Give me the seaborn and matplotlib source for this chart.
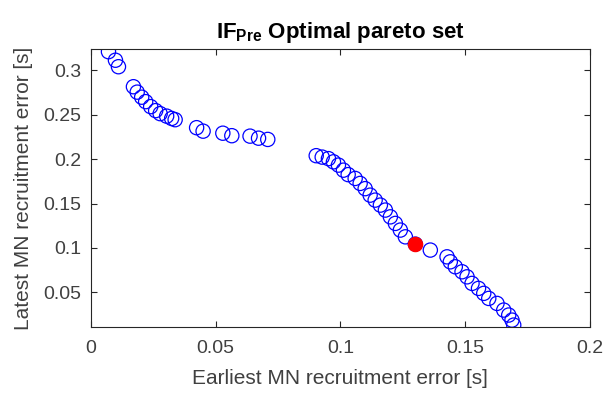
import matplotlib
matplotlib.use("Agg")
import matplotlib.pyplot as plt
import seaborn as sns
import pandas as pd

earliest_err = [0.0071, 0.0099, 0.0111, 0.0171, 0.0186, 0.0204, 0.0220, 0.0240, 0.0260, 0.0278,
                0.0304, 0.0324, 0.0338, 0.0424, 0.0450, 0.0529, 0.0565, 0.0638, 0.0672, 0.0709,
                0.0903, 0.0927, 0.0952, 0.0972, 0.0992, 0.1012, 0.1031, 0.1059, 0.1079, 0.1099,
                0.1119, 0.1139, 0.1160, 0.1180, 0.1200, 0.1220, 0.1240, 0.1260, 0.1300, 0.1360,
                0.1427, 0.1440, 0.1460, 0.1487, 0.1507, 0.1527, 0.1553, 0.1574, 0.1594, 0.1627,
                0.1654, 0.1674, 0.1687, 0.1694]
latest_err = [0.3208, 0.3112, 0.3039, 0.2814, 0.2753, 0.2696, 0.2646, 0.2590, 0.2545, 0.2511,
              0.2483, 0.2457, 0.2443, 0.2353, 0.2314, 0.2291, 0.2263, 0.2258, 0.2235, 0.2221,
              0.2038, 0.2022, 0.2005, 0.1969, 0.1932, 0.1875, 0.1825, 0.1782, 0.1726, 0.1667,
              0.1594, 0.1538, 0.1482, 0.1426, 0.1350, 0.1276, 0.1201, 0.1125, 0.1043, 0.0976,
              0.0900, 0.0844, 0.0788, 0.0732, 0.0675, 0.0601, 0.0545, 0.0489, 0.0432, 0.0376,
              0.0301, 0.0245, 0.0188, 0.0132]
selected_x = [0.1300]
selected_y = [0.1043]

x_ticks = [0, 0.05, 0.1, 0.15, 0.2]
x_ticklabels = ["0", "0.05", "0.1", "0.15", "0.2"]
y_ticks = [0.05, 0.1, 0.15, 0.2, 0.25, 0.3]
y_ticklabels = ["0.05", "0.1", "0.15", "0.2", "0.25", "0.3"]

df = pd.DataFrame({"earliest": earliest_err, "latest": latest_err})
sel = pd.DataFrame({"earliest": selected_x, "latest": selected_y})

sns.set_style("white")
plt.rcParams["font.family"] = ["Liberation Sans", "DejaVu Sans"]
plt.rcParams["mathtext.fontset"] = "custom"
plt.rcParams["mathtext.rm"] = "Liberation Sans"
plt.rcParams["mathtext.bf"] = "Liberation Sans:bold"

fig = plt.figure(figsize=(6.09, 3.99), dpi=100)
ax = fig.add_axes([0.149, 0.181, 0.820, 0.695])

sns.scatterplot(data=df, x="earliest", y="latest", ax=ax, marker="o", s=105,
                facecolors="none", edgecolor="#0000ff", linewidth=0.9, zorder=2)
sns.scatterplot(data=sel, x="earliest", y="latest", ax=ax, marker="o", s=105,
                color="#ff0000", edgecolor="#ff0000", linewidth=0.9, zorder=3)

ax.set_xlim(0, 0.2)
ax.set_ylim(0.0113, 0.3233)
ax.set_xticks(x_ticks)
ax.set_xticklabels(x_ticklabels)
ax.set_yticks(y_ticks)
ax.set_yticklabels(y_ticklabels)

axcol = "#262626"
txtcol = "#404040"
for sp in ax.spines.values():
    sp.set_visible(True)
    sp.set_color(axcol)
    sp.set_linewidth(0.8)
ax.tick_params(direction="in", length=4, width=0.8, color=axcol, labelcolor=txtcol,
               labelsize=14, top=True, right=True, bottom=True, left=True)
ax.tick_params(axis="x", pad=9.5)
ax.tick_params(axis="y", pad=6.5)
for lab in ax.get_xticklabels() + ax.get_yticklabels():
    lab.set_clip_on(False)

ax.set_xlabel("Earliest MN recruitment error [s]", fontsize=15, color=txtcol, labelpad=9)
ax.set_ylabel("Latest MN recruitment error [s]", fontsize=15, color=txtcol, labelpad=8)
ax.set_title(r"IF$_{\mathbf{Pre}}$ Optimal pareto set", fontsize=16, fontweight="bold",
             color="black", pad=8)

fig.savefig("out.png", dpi=100)
